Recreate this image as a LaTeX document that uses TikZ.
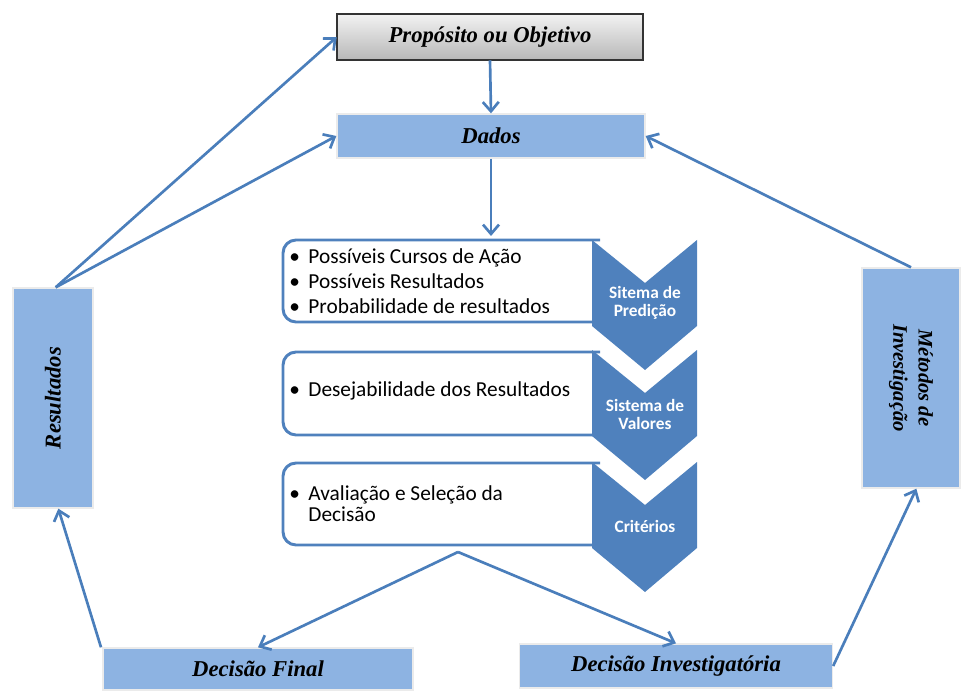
\documentclass[tikz,border=0pt]{standalone}
\usepackage{fontspec}
\setmainfont{Liberation Serif}
\newfontfamily\listfont{Carlito}
\usetikzlibrary{arrows.meta}
\definecolor{boxblue}{HTML}{8DB3E2}
\definecolor{darkblue}{HTML}{4F81BD}
\definecolor{arrowblue}{HTML}{4A7EBB}
\tikzset{
  titlefont/.style={font=\fontsize{17}{19}\selectfont\bfseries\itshape},
  titlebox/.style={draw=white!92!black, line width=1pt, fill=boxblue,
    titlefont, inner sep=0pt},
  flow/.style={draw=arrowblue, line width=2pt,
    -{Straight Barb[length=7pt,width=12pt,line width=2pt]}},
  listbox/.style={draw=darkblue, line width=2.2pt, fill=white},
  chevron/.style={fill=darkblue, draw=none},
  chevtext/.style={text=white, font=\listfont\fontsize{13}{13.5}\selectfont\bfseries,
    align=center},
  itemtext/.style={font=\listfont\fontsize{16}{18.75}\selectfont, anchor=west,
    align=left, inner sep=0pt},
}
\begin{document}
\begin{tikzpicture}[x=0.75pt,y=-0.75pt]
\useasboundingbox (0,0) rectangle (966,691);

% top box with grey gradient
\shade[top color=white!95!black, bottom color=white!72!black, draw=black!80, line width=1.2pt]
  (337,14) rectangle (643,60);
\node[inner sep=0pt, minimum width=306*0.75pt, minimum height=46*0.75pt, titlefont]
  (propbox) at (490,37) {Propósito ou Objetivo};

% side and bottom boxes
\node[titlebox, minimum width=308*0.75pt, minimum height=44*0.75pt] (dados) at (491,136) {Dados};
\node[titlebox, minimum width=80*0.75pt, minimum height=220*0.75pt] (res) at (53,398) {};
\node[rotate=90, titlefont] (restext) at (res.center) {Resultados};
\node[titlebox, minimum width=98*0.75pt, minimum height=220*0.75pt] (met) at (911,378) {};
\node[rotate=-90, align=center, font=\fontsize{15.5}{19}\selectfont\bfseries\itshape]
  (mettext) at (met.center) {Métodos de\\Investigação};
\node[titlebox, minimum width=310*0.75pt, minimum height=42*0.75pt] (final) at (258,669) {Decisão Final};
\node[titlebox, minimum width=313*0.75pt, minimum height=44*0.75pt] (invest) at (676,666) {Decisão Investigatória};

% list boxes (rounded on the left only)
\foreach \t/\b in {240/322, 352/435, 463/545}{
  \draw[listbox] (600,\t) -- (296,\t) arc[start angle=90,end angle=180,radius=13*0.75pt]
    -- (283,\b-13) arc[start angle=180,end angle=270,radius=13*0.75pt] -- (600,\b);
}
% chevrons
\foreach \t/\b/\tip in {240/326/370, 350/436/480, 462/548/592}{
  \fill[chevron] (592,\t) -- (645,\t+43) -- (697,\t) -- (697,\b) -- (645,\tip) -- (592,\b) -- cycle;
}
\node[chevtext] (c1) at (645,303) {Sitema de\\Predição};
\node[chevtext] (c2) at (645,414) {Sistema de\\Valores};
\node[chevtext] (c3) at (645,526) {Critérios};

% bullet items
\node[itemtext] (i1) at (289,281) {•\hspace{0.4em}Possíveis Cursos de Ação\\
  •\hspace{0.4em}Possíveis Resultados\\
  •\hspace{0.4em}Probabilidade de resultados};
\node[itemtext] (i2) at (289,391) {•\hspace{0.4em}Desejabilidade dos Resultados};
\node[itemtext] (i3) at (289,504) {•\hspace{0.4em}Avaliação e Seleção da\\[-3pt]
  \phantom{•}\hspace{0.4em}Decisão};

\coordinate (split) at (458,552);

% connectors
\draw[flow] (propbox.south) -- (dados.north);
\draw[flow] (dados.south) -- (491,236);
\draw[flow] ([xshift=2pt]res.north) -- (propbox.west);
\draw[flow] ([xshift=2pt]res.north) -- (dados.west);
\draw[flow] (met.north) -- (dados.east);
\draw[flow] ([xshift=-1pt]final.north west) -- ([xshift=4pt]res.south);
\draw[flow] (split) -- (final.north);
\draw[flow] (split) -- (invest.north);
\draw[flow] (invest.east) -- ([xshift=4pt]met.south);
\end{tikzpicture}
\end{document}
